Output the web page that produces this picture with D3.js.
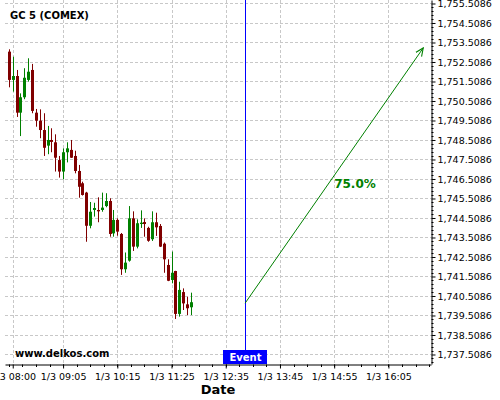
<!DOCTYPE html>
<html>
<head>
<meta charset="utf-8">
<script src="https://cdn.jsdelivr.net/npm/d3@7"></script>
<style>
  body { margin: 0; background: #fff; }
  svg { display: block; font-family: "DejaVu Sans", sans-serif; }
</style>
</head>
<body>
<div id="chart"></div>
<script>
// 5 minute candles, 3 Jan
const times = ["07:55","08:00","08:05","08:10","08:15","08:20","08:25","08:30","08:35","08:40","08:45","08:50",
  "08:55","09:00","09:05","09:10","09:15","09:20","09:25","09:30","09:35","09:40","09:45","09:50",
  "09:55","10:00","10:05","10:10","10:15","10:20","10:25","10:30","10:35","10:40","10:45","10:50",
  "10:55","11:00","11:05","11:10","11:15","11:20","11:25","11:30","11:35","11:40","11:45","11:50"];
const opens = [1753.04,1751.59,1751.79,1749.91,1750.70,1751.59,1752.10,1749.91,1749.50,1749.02,1748.22,1748.51,
  1748.39,1747.48,1746.89,1747.88,1748.00,1747.69,1746.92,1746.29,1745.81,1744.11,1744.92,1744.92,
  1744.92,1745.12,1745.38,1743.72,1744.41,1743.69,1741.88,1742.32,1744.49,1743.04,1744.20,1744.30,
  1744.00,1743.42,1744.29,1744.10,1743.19,1742.10,1741.33,1741.79,1739.59,1740.71,1740.08,1739.93];
const highs = [1753.16,1752.78,1752.10,1750.90,1752.19,1752.70,1752.41,1750.10,1750.08,1749.88,1749.23,1749.11,
  1748.80,1747.69,1748.08,1748.39,1748.51,1747.96,1747.23,1746.37,1745.85,1745.33,1745.29,1745.57,
  1745.81,1745.78,1745.52,1744.92,1744.49,1743.74,1742.74,1745.12,1744.85,1744.44,1744.90,1744.49,
  1744.06,1744.85,1744.78,1744.20,1743.25,1742.39,1742.79,1741.80,1741.24,1740.90,1740.47,1740.68];
const lows = [1751.21,1750.99,1749.69,1748.71,1750.60,1751.50,1749.88,1749.19,1748.60,1747.69,1747.78,1747.88,
  1746.89,1746.58,1746.49,1747.36,1747.59,1746.80,1745.55,1745.66,1743.29,1743.98,1744.58,1744.29,
  1744.83,1745.06,1743.55,1743.55,1743.60,1741.59,1741.70,1742.27,1742.82,1742.95,1744.00,1743.55,
  1743.29,1743.33,1743.59,1743.02,1741.70,1741.27,1741.16,1739.33,1739.45,1739.79,1739.53,1739.53];
const closes = [1751.59,1751.79,1749.91,1750.70,1751.70,1752.01,1750.00,1749.50,1749.02,1748.11,1748.51,1748.41,
  1747.60,1746.89,1747.88,1748.08,1747.60,1746.92,1746.11,1745.69,1744.11,1744.83,1745.02,1744.85,
  1745.04,1745.38,1743.69,1744.41,1743.81,1741.88,1742.22,1744.49,1743.04,1744.24,1744.27,1744.20,
  1743.34,1744.29,1744.03,1743.04,1742.39,1741.29,1741.70,1739.59,1740.82,1740.13,1739.88,1740.19];

const yTicks = [1737.5086,1738.5086,1739.5086,1740.5086,1741.5086,1742.5086,1743.5086,1744.5086,1745.5086,
  1746.5086,1747.5086,1748.5086,1749.5086,1750.5086,1751.5086,1752.5086,1753.5086,1754.5086,1755.5086];
const xTicks = ["08:00","09:05","10:15","11:25","12:35","13:45","14:55","16:05"];

const eventTime = "13:00";
const forecastStart = { time: "13:00", price: 1740.14 };
const forecastEnd = { time: "16:50", price: 1753.23 };
const forecastLabel = { time: "14:55", price: 1746.03, text: "75.0%" };

const W = 500, H = 400;
const margin = { top: 0, right: 69, bottom: 36, left: 5 };
const parse = s => d3.timeParse("%Y-%m-%d %H:%M")("2020-01-03 " + s);

const svg = d3.select("#chart").append("svg")
  .attr("width", W).attr("height", H);

const x = d3.scaleTime()
  .domain([parse("07:50"), parse("17:00")])
  .range([margin.left, W - margin.right]);
const y = d3.scaleLinear()
  .domain([1737.0214, 1755.688])
  .range([H - margin.bottom, margin.top]);

const x0 = x.range()[0], x1 = x.range()[1];
const y0 = y.range()[0], y1 = y.range()[1];

// grid
const grid = svg.append("g")
  .attr("stroke", "#c8c8c8").attr("stroke-dasharray", "3,2").attr("stroke-width", 1);
grid.selectAll("line.h").data(yTicks).join("line")
  .attr("x1", x0).attr("x2", x1)
  .attr("y1", d => Math.round(y(d)) + 0.5).attr("y2", d => Math.round(y(d)) + 0.5);
grid.selectAll("line.v").data(xTicks).join("line")
  .attr("x1", d => Math.round(x(parse(d))) + 0.5).attr("x2", d => Math.round(x(parse(d))) + 0.5)
  .attr("y1", y1).attr("y2", y0);

// candles
const candles = times.map((t, i) => ({ t: parse(t), o: opens[i], h: highs[i], l: lows[i], c: closes[i] }));
const cg = svg.append("g").selectAll("g").data(candles).join("g")
  .attr("fill", d => d.c >= d.o ? "#008000" : "#800000")
  .attr("stroke", d => d.c >= d.o ? "#008000" : "#800000");
cg.append("line")
  .attr("x1", d => Math.round(x(d.t)) + 0.5).attr("x2", d => Math.round(x(d.t)) + 0.5)
  .attr("y1", d => y(d.h)).attr("y2", d => y(d.l));
cg.append("rect")
  .attr("stroke", "none")
  .attr("x", d => Math.round(x(d.t)) - 1).attr("width", 3)
  .attr("y", d => y(Math.max(d.o, d.c)))
  .attr("height", d => Math.max(1, Math.abs(y(d.o) - y(d.c))));

// event line and label
const ex = Math.round(x(parse(eventTime))) + 0.5;
svg.append("line")
  .attr("x1", ex).attr("x2", ex).attr("y1", y1).attr("y2", y0 - 14)
  .attr("stroke", "blue").attr("stroke-width", 1)
  .attr("shape-rendering", "crispEdges");
svg.append("rect")
  .attr("x", ex - 22.5).attr("y", y0 - 14).attr("width", 44).attr("height", 14)
  .attr("fill", "blue");
svg.append("text")
  .attr("x", ex).attr("y", y0 - 3.5)
  .attr("text-anchor", "middle").attr("fill", "#fff")
  .attr("font-size", 10).attr("font-weight", "bold")
  .text("Event");

// forecast arrow
svg.append("defs").append("marker")
  .attr("id", "arrow").attr("viewBox", "0 0 10 10")
  .attr("refX", 9).attr("refY", 5)
  .attr("markerWidth", 9).attr("markerHeight", 9)
  .attr("markerUnits", "userSpaceOnUse")
  .attr("orient", "auto")
  .append("path").attr("d", "M0,1 L9,5 L0,9")
  .attr("fill", "none").attr("stroke", "#008000").attr("stroke-width", 1.2);
svg.append("line")
  .attr("x1", x(parse(forecastStart.time))).attr("y1", y(forecastStart.price))
  .attr("x2", x(parse(forecastEnd.time))).attr("y2", y(forecastEnd.price))
  .attr("stroke", "#008000").attr("stroke-width", 1)
  .attr("marker-end", "url(#arrow)");
svg.append("text")
  .attr("x", x(parse(forecastLabel.time))).attr("y", y(forecastLabel.price))
  .attr("fill", "#008000").attr("font-size", 12).attr("font-weight", "bold")
  .text(forecastLabel.text);

// right axis
const yAxis = svg.append("g")
  .attr("transform", `translate(${x1 + 0.5},0)`)
  .call(d3.axisRight(y).tickValues(yTicks).tickSize(4).tickSizeOuter(0)
    .tickFormat(d3.format(",.4f")));
yAxis.select(".domain").attr("stroke", "#000");
yAxis.selectAll("text").attr("font-size", 9.5).attr("font-family", "DejaVu Sans").attr("fill", "#000").attr("x", 6);
const yMinor = d3.range(1737.1086, 1755.6, 0.2).filter(v => yTicks.every(t => Math.abs(t - v) > 0.01));
svg.append("g").attr("stroke", "#000")
  .selectAll("line").data(yMinor).join("line")
  .attr("x1", x1 + 0.5).attr("x2", x1 + 2.5)
  .attr("y1", d => Math.round(y(d)) + 0.5).attr("y2", d => Math.round(y(d)) + 0.5);

// bottom axis
const fmtX = d3.timeFormat("1/3 %H:%M");
const xAxis = svg.append("g")
  .attr("transform", `translate(0,${y0 + 0.5})`)
  .call(d3.axisBottom(x).tickValues(xTicks.map(parse)).tickSize(4).tickSizeOuter(0)
    .tickFormat(fmtX));
xAxis.select(".domain").attr("stroke", "#000");
xAxis.selectAll("text").attr("font-size", 9.5).attr("font-family", "DejaVu Sans").attr("fill", "#000").attr("dy", "0.9em");
const minorStep = 17.5 * 60000;
const xMinor = [];
for (let v = parse("09:05").getTime() - 4 * minorStep; v <= x.domain()[1].getTime(); v += minorStep) {
  if (v >= x.domain()[0].getTime()) xMinor.push(new Date(v));
}
svg.append("g").attr("stroke", "#000")
  .selectAll("line").data(xMinor).join("line")
  .attr("x1", d => Math.round(x(d)) + 0.5).attr("x2", d => Math.round(x(d)) + 0.5)
  .attr("y1", y0 + 0.5).attr("y2", y0 + 3);

// texts
svg.append("text").attr("x", 10).attr("y", 19)
  .attr("font-size", 10).attr("font-weight", "bold").text("GC 5 (COMEX)");
svg.append("text").attr("x", 15).attr("y", 357)
  .attr("font-size", 10).attr("font-weight", "bold").text("www.delkos.com");
svg.append("text").attr("x", (x0 + x1) / 2).attr("y", 394)
  .attr("text-anchor", "middle").attr("font-size", 13).attr("font-weight", "bold").text("Date");
</script>
</body>
</html>
